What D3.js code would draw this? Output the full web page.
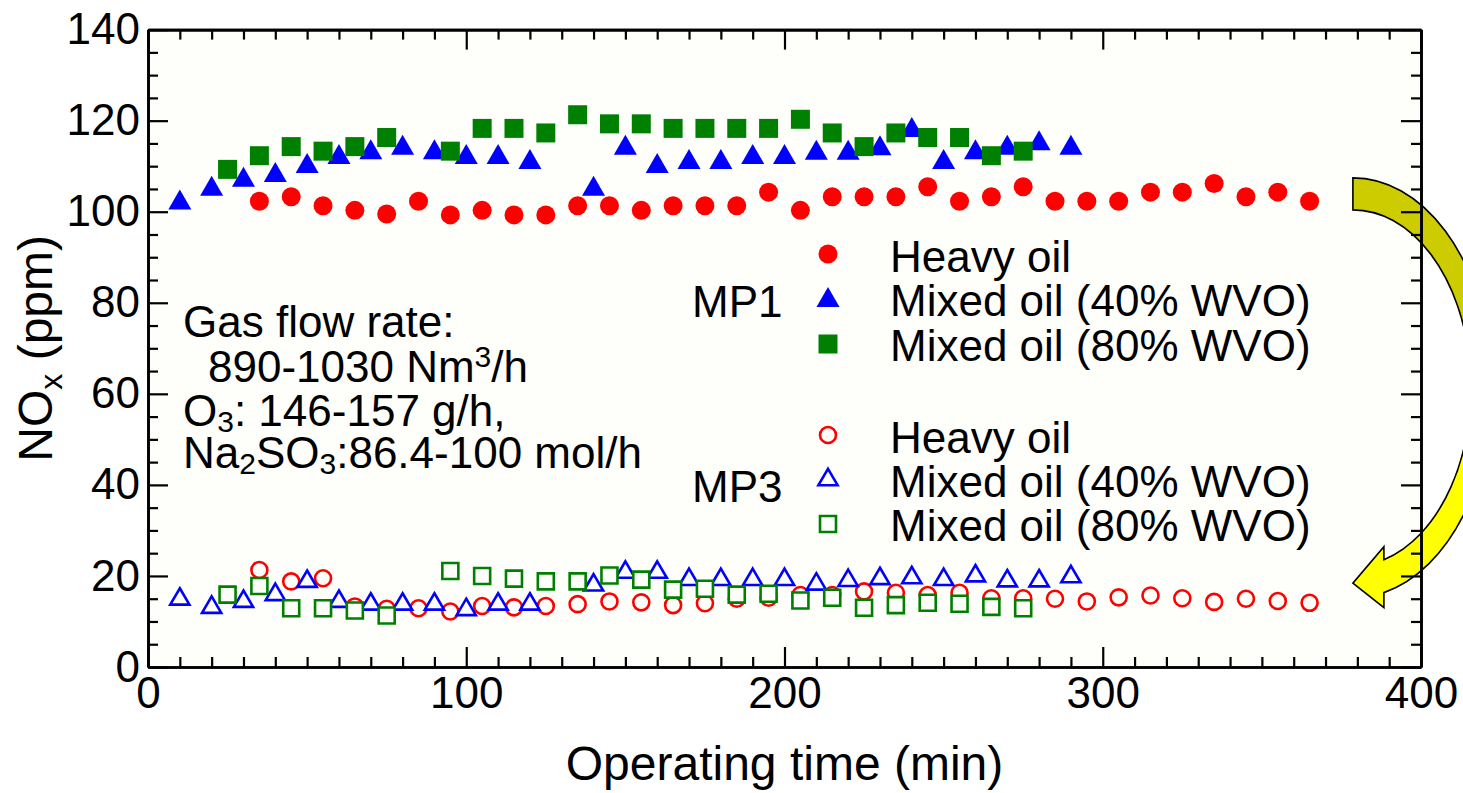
<!DOCTYPE html>
<html><head><meta charset="utf-8">
<script src="https://cdn.jsdelivr.net/npm/d3@7"></script>
<style>
body{margin:0;background:#ffffff}
svg{display:block}
text{font-family:"Liberation Sans",Arial,Helvetica,sans-serif;fill:#000}
</style>
</head><body>
<svg id="chart" width="1463" height="793"></svg>
<script>
// ---------------- data ----------------
const heavyTime = [35,45,55,65,75,85,95,105,115,125,135,145,155,165,175,185,195,205,215,225,235,245,255,265,275,285,295,305,315,325,335,345,355,365];
const mix40Time = [10,20,30,40,50,60,70,80,90,100,110,120,140,150,160,170,180,190,200,210,220,230,240,250,260,270,280,290];
const mix80Time = [25,35,45,55,65,75,95,105,115,125,135,145,155,165,175,185,195,205,215,225,235,245,255,265,275];

const mp1Heavy = [102.3,103.3,101.3,100.3,99.5,102.3,99.3,100.3,99.3,99.3,101.3,101.3,100.3,101.3,101.3,101.3,104.3,100.3,103.3,103.3,103.3,105.5,102.3,103.3,105.5,102.3,102.3,102.3,104.3,104.3,106.2,103.3,104.3,102.3];
const mp1Mix40 = [102.7,105.7,107.7,108.7,110.7,112.7,113.7,114.7,113.7,112.7,112.7,111.6,105.7,114.7,110.7,111.6,111.6,112.7,112.7,113.6,113.6,114.6,118.6,111.6,113.7,114.7,115.7,114.7];
const mp1Mix80 = [109.3,112.3,114.3,113.3,114.3,116.3,113.3,118.3,118.3,117.3,121.3,119.3,119.3,118.3,118.3,118.3,118.3,120.3,117.3,114.3,117.3,116.3,116.3,112.3,113.3];

const mp3Heavy = [21.3,18.8,19.5,13.3,12.8,12.9,12.2,13.4,13.1,13.4,13.8,14.4,14.2,13.6,14.0,15.0,15.2,15.8,15.8,16.6,16.3,15.8,16.3,15.1,15.1,15.0,14.4,15.3,15.7,15.1,14.3,15.0,14.5,14.1];
const mp3Mix40 = [15.5,13.7,15.0,16.5,19.4,15.0,14.4,14.4,14.4,13.2,14.4,14.4,18.6,21.4,21.4,19.8,19.8,19.8,19.8,18.8,19.6,20.0,20.2,19.8,20.6,19.5,19.5,20.4];
const mp3Mix80 = [15.9,17.8,12.9,12.9,12.4,11.3,21.1,20.0,19.4,18.8,18.8,20.1,19.2,17.0,17.2,15.9,16.1,14.6,15.2,13.0,13.6,14.1,13.9,13.2,12.9];

const xTicks = [0,100,200,300,400];
const yTicks = [0,20,40,60,80,100,120,140];
const seriesLabels = ["Heavy oil","Mixed oil (40% WVO)","Mixed oil (80% WVO)"];
const groupLabels = ["MP1","MP3"];
const noteLines = ["Gas flow rate:","890-1030 Nm","O","Na"];

// ---------------- layout ----------------
const svg = d3.select("#chart");
const L = 148, R = 1421, T = 29.6, B = 667;
const x = d3.scaleLinear().domain([0,400]).range([L,R]);
const y = d3.scaleLinear().domain([0,140]).range([B,T]);
const RED = "#ff0000", BLUE = "#0000ff", GREEN = "#008000", BG = "#fefefb";

// plot background
svg.append("rect").attr("x",L).attr("y",T).attr("width",R-L).attr("height",B-T).attr("fill",BG);

// ---------------- arrow (annotation) ----------------
const defs = svg.append("defs");
const grad = defs.append("linearGradient").attr("id","ag").attr("x1",0).attr("y1",0).attr("x2",0).attr("y2",1);
grad.append("stop").attr("offset","0").attr("stop-color","#cccc00");
grad.append("stop").attr("offset","0.38").attr("stop-color","#cccc00");
grad.append("stop").attr("offset","0.62").attr("stop-color","#ffff00");
grad.append("stop").attr("offset","1").attr("stop-color","#ffff00");
{
  const cx = x(378.6), cy = y(61.3);
  const ao = 139, bo = 210, ai = 118, bi = 178;
  const ex = cx + 31;
  const eyO = cy + bo*Math.sqrt(1-Math.pow(31/ao,2));
  const eyI = cy + bi*Math.sqrt(1-Math.pow(31/ai,2));
  const p = `M${cx},${cy-bo} A${ao},${bo} 0 0 1 ${ex},${eyO} L${ex},${eyO+15} L${cx},${eyO-9.5} L${ex},${eyI-13} L${ex},${eyI} A${ai},${bi} 0 0 0 ${cx},${cy-bi} Z`;
  svg.append("path").attr("d",p).attr("fill","url(#ag)").attr("stroke","#000").attr("stroke-width",1.6).attr("stroke-linejoin","miter");
}

// ---------------- axes ----------------
function styleAxis(g){
  g.select(".domain").attr("stroke","#000").attr("stroke-width",2.6);
  g.selectAll(".tick line").attr("stroke","#000").attr("stroke-width",2.2);
  g.selectAll(".tick text").attr("font-size","44px").attr("fill","#000")
   .attr("font-family","'Liberation Sans',Arial,sans-serif");
}
const xMinor = x.ticks(40).filter(v => xTicks.indexOf(v) < 0);
const yMinor = y.ticks(28).filter(v => yTicks.indexOf(v) < 0);

// bottom
svg.append("g").attr("transform",`translate(0,${B})`)
  .call(d3.axisBottom(x).tickValues(xMinor).tickSize(-10).tickSizeOuter(0).tickFormat("")).call(styleAxis);
svg.append("g").attr("transform",`translate(0,${B})`)
  .call(d3.axisBottom(x).tickValues(xTicks).tickSize(-20).tickSizeOuter(0).tickPadding(10).tickFormat(d3.format("d"))).call(styleAxis);
// top
svg.append("g").attr("transform",`translate(0,${T})`)
  .call(d3.axisTop(x).tickValues(xMinor).tickSize(-10).tickSizeOuter(0).tickFormat("")).call(styleAxis);
svg.append("g").attr("transform",`translate(0,${T})`)
  .call(d3.axisTop(x).tickValues(xTicks).tickSize(-20).tickSizeOuter(0).tickFormat("")).call(styleAxis);
// left
svg.append("g").attr("transform",`translate(${L},0)`)
  .call(d3.axisLeft(y).tickValues(yMinor).tickSize(-10).tickSizeOuter(0).tickFormat("")).call(styleAxis);
svg.append("g").attr("transform",`translate(${L},0)`)
  .call(d3.axisLeft(y).tickValues(yTicks).tickSize(-20).tickSizeOuter(0).tickPadding(8).tickFormat(d3.format("d"))).call(styleAxis);
// right
svg.append("g").attr("transform",`translate(${R},0)`)
  .call(d3.axisRight(y).tickValues(yMinor).tickSize(-10).tickSizeOuter(0).tickFormat("")).call(styleAxis);
svg.append("g").attr("transform",`translate(${R},0)`)
  .call(d3.axisRight(y).tickValues(yTicks).tickSize(-20).tickSizeOuter(0).tickFormat("")).call(styleAxis);

// ---------------- markers ----------------
const shapes = {
  circle: (r) => `M${-r},0 A${r},${r} 0 1 0 ${r},0 A${r},${r} 0 1 0 ${-r},0 Z`,
  square: (s) => `M${-s},${-s} H${s} V${s} H${-s} Z`,
  tri: (w,h) => `M0,${-h} L${w},${h} L${-w},${h} Z`
};
const filledPath = {circle: shapes.circle(9.5), square: shapes.square(9.5), tri: shapes.tri(11.5,10)};
const openPath   = {circle: shapes.circle(8), square: shapes.square(8), tri: shapes.tri(9.6,8.2)};

function drawSeries(times, vals, kind, color, open){
  const g = svg.append("g");
  g.selectAll("path").data(times.map((t,i)=>({t, v: vals[i]}))).join("path")
    .attr("transform", d => `translate(${x(d.t)},${y(d.v)})`)
    .attr("d", open ? openPath[kind] : filledPath[kind])
    .attr("fill", open ? BG : color)
    .attr("stroke", open ? color : "none")
    .attr("stroke-width", open ? 2.6 : 0);
}
// MP3 (open)
drawSeries(heavyTime, mp3Heavy, "circle", RED, true);
drawSeries(mix40Time, mp3Mix40, "tri", BLUE, true);
drawSeries(mix80Time, mp3Mix80, "square", GREEN, true);
// MP1 (filled)
drawSeries(heavyTime, mp1Heavy, "circle", RED, false);
drawSeries(mix40Time, mp1Mix40, "tri", BLUE, false);
drawSeries(mix80Time, mp1Mix80, "square", GREEN, false);

// ---------------- legend ----------------
const FS = 44;
const legendRows = [
  {group:0, kinds:["circle","tri","square"], colors:[RED,BLUE,GREEN], open:false, ys:[254,297,344], base:[271.5,316,361], gy:316.5},
  {group:1, kinds:["circle","tri","square"], colors:[RED,BLUE,GREEN], open:true, ys:[435,477,524], base:[452.5,497,541], gy:501.5}
];
legendRows.forEach(row => {
  svg.append("text").attr("x",692).attr("y",row.gy).attr("font-size",FS+"px").text(groupLabels[row.group]);
  row.kinds.forEach((k,i) => {
    svg.append("path").attr("transform",`translate(828,${row.ys[i]})`)
      .attr("d", row.open ? openPath[k] : filledPath[k])
      .attr("fill", row.open ? BG : row.colors[i])
      .attr("stroke", row.open ? row.colors[i] : "none")
      .attr("stroke-width", row.open ? 2.6 : 0);
    svg.append("text").attr("x",890).attr("y",row.base[i]).attr("font-size",FS+"px").text(seriesLabels[i]);
  });
});

// ---------------- annotation text ----------------
const SUB = 30;
svg.append("text").attr("x",183).attr("y",337).attr("font-size",FS+"px").text(noteLines[0]);
{
  const t = svg.append("text").attr("x",208).attr("y",382).attr("font-size",FS+"px");
  t.append("tspan").text(noteLines[1]);
  t.append("tspan").attr("dy",-15).attr("font-size",SUB+"px").text("3");
  t.append("tspan").attr("dy",15).text("/h");
}
{
  const t = svg.append("text").attr("x",183).attr("y",426).attr("font-size",FS+"px");
  t.append("tspan").text(noteLines[2]);
  t.append("tspan").attr("dy",6).attr("font-size",SUB+"px").text("3");
  t.append("tspan").attr("dy",-6).text(": 146-157 g/h,");
}
{
  const t = svg.append("text").attr("x",183).attr("y",468).attr("font-size",FS+"px");
  t.append("tspan").text(noteLines[3]);
  t.append("tspan").attr("dy",6).attr("font-size",SUB+"px").text("2");
  t.append("tspan").attr("dy",-6).text("SO");
  t.append("tspan").attr("dy",6).attr("font-size",SUB+"px").text("3");
  t.append("tspan").attr("dy",-6).text(":86.4-100 mol/h");
}

// ---------------- axis titles ----------------
svg.append("text").attr("x",(L+R)/2).attr("y",780).attr("text-anchor","middle").attr("font-size","48px").text("Operating time (min)");
{
  const t = svg.append("text").attr("transform",`translate(52,${(T+B)/2}) rotate(-90)`).attr("text-anchor","middle").attr("font-size","48px");
  t.append("tspan").text("NO");
  t.append("tspan").attr("dy",10).attr("font-size","32px").text("x");
  t.append("tspan").attr("dy",-10).text(" (ppm)");
}
</script>
</body></html>
